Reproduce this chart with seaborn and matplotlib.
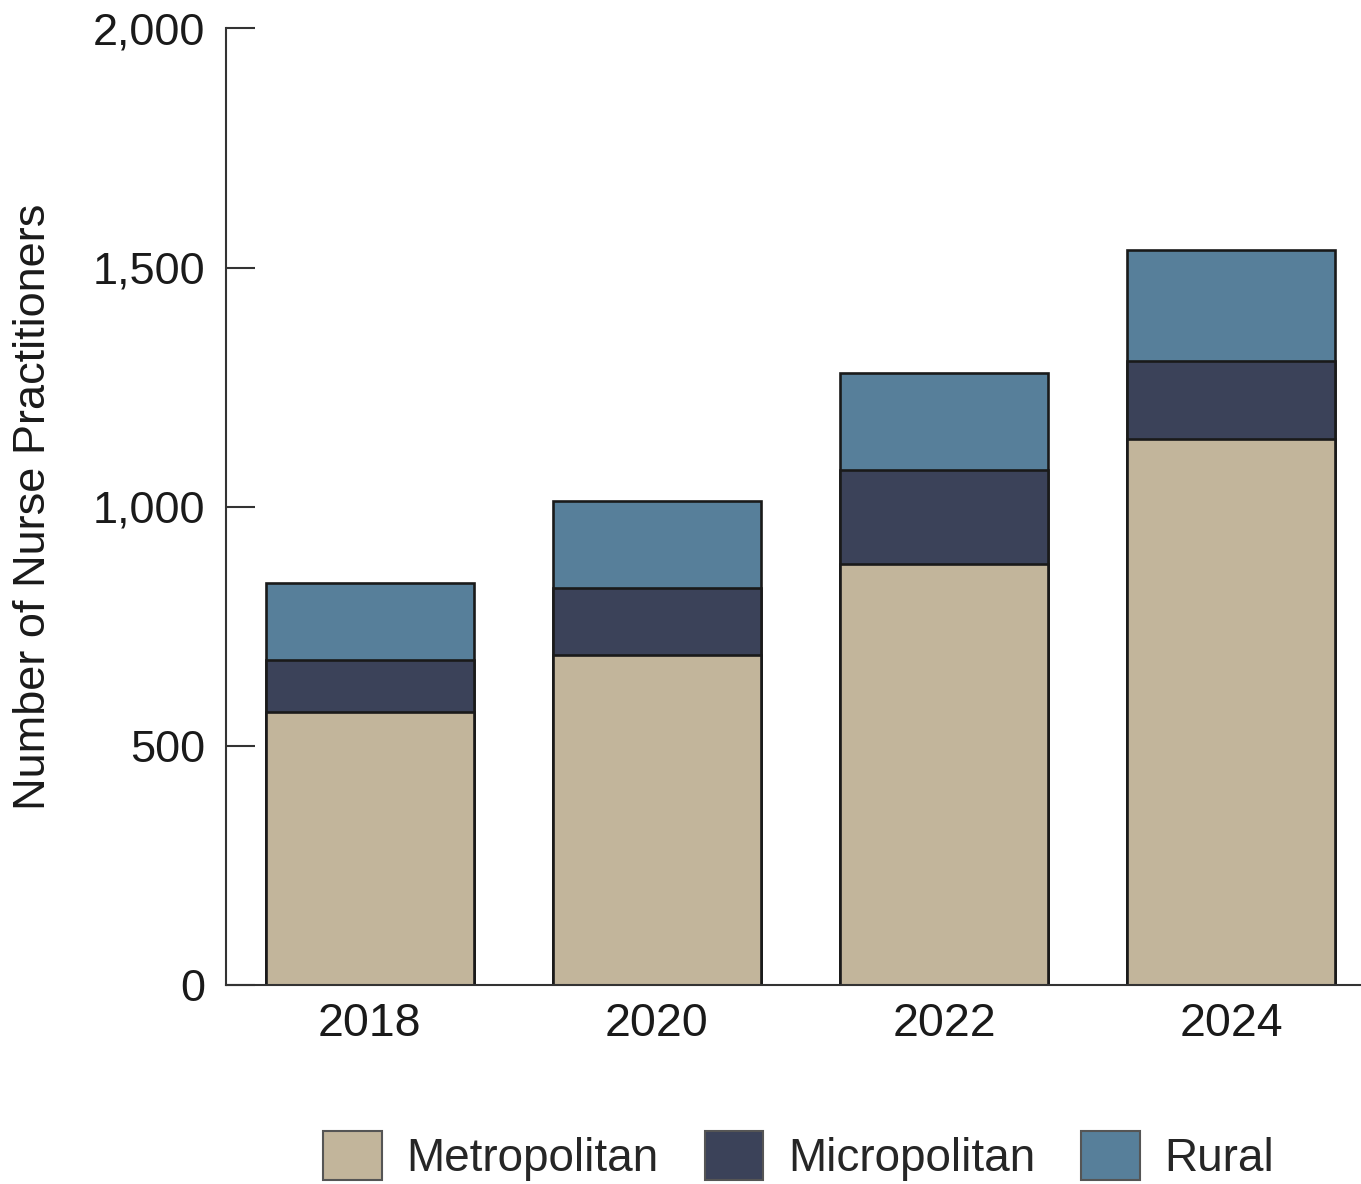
import matplotlib
matplotlib.use("Agg")
import matplotlib.pyplot as plt
import matplotlib.patches as mpatches
import seaborn as sns
import pandas as pd
import numpy as np

years = ["2018", "2020", "2022", "2024"]
metropolitan = [570, 690, 880, 1141]
micropolitan = [109, 140, 196, 163]
rural = [161, 181, 204, 233]
series_names = ["Metropolitan", "Micropolitan", "Rural"]
colors = ["#C2B59B", "#3B4259", "#577F9A"]
yticks = [0, 500, 1000, 1500, 2000]

sns.set_theme(style="white")
plt.rcParams["font.family"] = ["Liberation Sans", "DejaVu Sans"]

fig = plt.figure(figsize=(13.61, 11.84), dpi=100)
ax = fig.add_axes([0.166, 0.168, 0.834, 0.808])

m = np.array(metropolitan)
mi = np.array(micropolitan)
r = np.array(rural)
layers = [
    (m + mi + r, colors[2]),
    (m + mi, colors[1]),
    (m, colors[0]),
]
for vals, c in layers:
    df = pd.DataFrame({"year": years, "value": vals})
    sns.barplot(data=df, x="year", y="value", color=c, width=0.724,
                edgecolor="#1a1a1a", linewidth=1.9, saturation=1, ax=ax)

ax.set_ylim(0, 2000)
ax.set_xlim(-0.5, 3.452)
ax.set_yticks(yticks)
ax.set_yticklabels([f"{v:,}" for v in yticks])
ax.set_xlabel("")
ax.set_ylabel("Number of Nurse Practitioners", fontsize=32.5, labelpad=28, color="#1a1a1a")
ax.tick_params(axis="y", direction="in", length=21, width=1.5, color="#333333",
               labelsize=32.5, pad=15, labelcolor="#1a1a1a", left=True)
ax.tick_params(axis="x", length=0, labelsize=33.5, pad=12, labelcolor="#1a1a1a")
for s in ["top", "right"]:
    ax.spines[s].set_visible(False)
for s in ["left", "bottom"]:
    ax.spines[s].set_color("#333333")
    ax.spines[s].set_linewidth(1.5)

handles = [mpatches.Patch(facecolor=c, edgecolor="#555555", linewidth=1.5, label=n)
           for n, c in zip(series_names, colors)]
fig.legend(handles=handles, loc="center", bbox_to_anchor=(0.587, 0.024), ncol=3,
           frameon=False, fontsize=33, handlelength=1.27, handleheight=1.27,
           handletextpad=0.55, columnspacing=1.0, borderpad=0)

fig.savefig("out.png", dpi=100)
